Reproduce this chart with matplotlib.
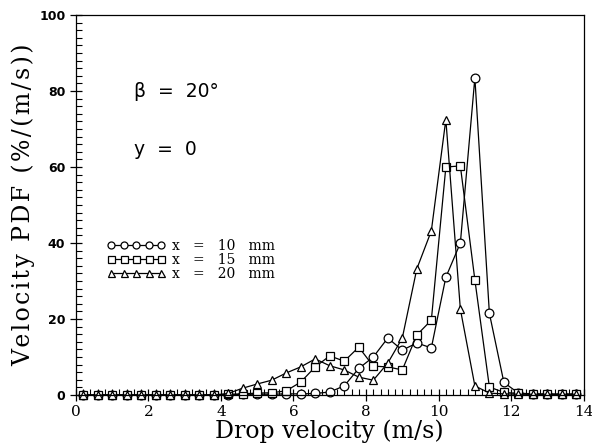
import numpy as np
import matplotlib.pyplot as plt
from matplotlib.ticker import MultipleLocator

# drop velocity bins (m/s)
v = [0.2, 0.6, 1.0, 1.4, 1.8, 2.2, 2.6, 3.0, 3.4, 3.8, 4.2, 4.6, 5.0, 5.4, 5.8,
     6.2, 6.6, 7.0, 7.4, 7.8, 8.2, 8.6, 9.0, 9.4, 9.8, 10.2, 10.6, 11.0, 11.4,
     11.8, 12.2, 12.6, 13.0, 13.4, 13.8]

# velocity PDF (%/(m/s))
pdf_10 = [0, 0, 0, 0, 0, 0, 0, 0, 0, 0, 0, 0.2, 0.2, 0.2, 0.3,
          0.3, 0.4, 0.8, 2.4, 7.0, 10.0, 15.0, 11.8, 13.7, 12.4, 31.0, 40.0, 83.5, 21.5,
          3.3, 0.5, 0.3, 0.2, 0.2, 0.2]
pdf_15 = [0, 0, 0, 0, 0, 0, 0, 0, 0, 0, 0.2, 0.3, 0.5, 0.6, 1.1,
          3.4, 7.4, 10.3, 8.9, 12.6, 7.6, 7.4, 6.6, 15.8, 19.7, 60.0, 60.3, 30.3, 2.1,
          0.7, 0.4, 0.2, 0.2, 0.2, 0.2]
pdf_20 = [0, 0, 0, 0, 0, 0, 0, 0, 0, 0, 0.4, 1.8, 2.9, 3.9, 5.8,
          7.4, 9.5, 7.7, 6.6, 4.7, 3.9, 8.4, 15.0, 33.2, 43.2, 72.5, 22.6, 2.4, 0.5,
          0.3, 0.2, 0.2, 0.2, 0.2, 0.2]

labels = ["x   =   10   mm", "x   =   15   mm", "x   =   20   mm"]

fig = plt.figure(figsize=(5.92, 4.47), dpi=100)
ax = fig.add_axes([0.128, 0.1163, 0.858, 0.85])

kw = dict(color="black", lw=0.9, mfc="white", mec="black", mew=0.9,
          ms=6.3, clip_on=False)
ax.plot(v, pdf_10, marker="o", label=labels[0], **kw)
ax.plot(v, pdf_15, marker="s", label=labels[1], **kw)
ax.plot(v, pdf_20, marker="^", label=labels[2], **kw)

ax.set_xlim(0, 14)
ax.set_ylim(0, 100)
ax.xaxis.set_major_locator(MultipleLocator(2))
ax.xaxis.set_minor_locator(MultipleLocator(0.2))
ax.yaxis.set_major_locator(MultipleLocator(20))
ax.yaxis.set_minor_locator(MultipleLocator(2))
ax.tick_params(which="major", direction="inout", length=8, width=0.9)
ax.tick_params(which="minor", direction="in", length=4, width=0.8)
ax.tick_params(top=False, right=False, which="both")
for lab in ax.get_xticklabels():
    lab.set_fontfamily("DejaVu Serif")
    lab.set_fontsize(11)
for lab in ax.get_yticklabels():
    lab.set_fontfamily("DejaVu Sans")
    lab.set_fontweight("bold")
    lab.set_fontsize(9)
for s in ax.spines.values():
    s.set_linewidth(0.9)

ax.set_xlabel("Drop velocity (m/s)", family="DejaVu Serif", fontsize=17, labelpad=0)
ylab = "\u200a".join("Velocity PDF (%/(m/s))")
ax.set_ylabel(ylab, family=["DejaVu Serif", "DejaVu Sans"], fontsize=17, labelpad=3)

ax.text(1.6, 80, "β  =  20°", fontsize=13.5, va="center", ha="left")
ax.text(1.6, 64.5, "y  =  0", fontsize=13.5, va="center", ha="left")

ax.legend(loc="upper left", bbox_to_anchor=(0.062, 0.41), frameon=False,
          numpoints=5, handlelength=4.2, handletextpad=0.45, labelspacing=0.0,
          borderpad=0, borderaxespad=0, markerscale=0.8,
          prop={"family": "DejaVu Serif", "size": 10})

fig.savefig("out.png", dpi=100)
